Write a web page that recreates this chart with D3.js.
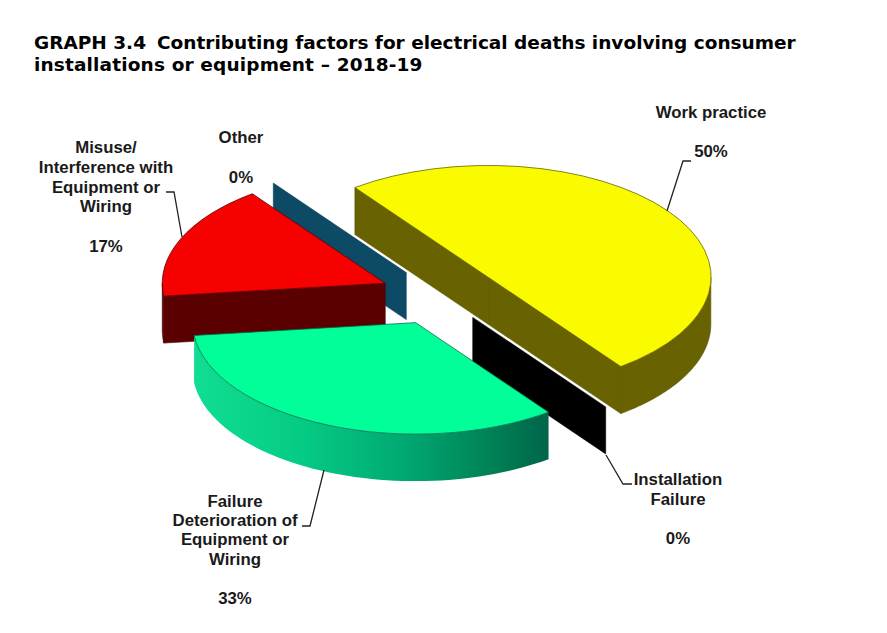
<!DOCTYPE html>
<html>
<head>
<meta charset="utf-8">
<script src="https://cdn.jsdelivr.net/npm/d3@7"></script>
<style>
  html, body { margin: 0; padding: 0; background: #fff; }
  svg { display: block; }
  .title { font: bold 18.5px "DejaVu Sans", Verdana, sans-serif; fill: #000; }
  .lab { font: bold 16.8px "Liberation Sans", Arial, sans-serif; fill: #1a1a1a; text-anchor: middle; }
</style>
</head>
<body>
<svg id="chart" width="887" height="633"></svg>
<script>
const categories = ['Work practice', 'Installation Failure', 'Failure Deterioration of Equipment or Wiring', 'Misuse/ Interference with Equipment or Wiring', 'Other'];
const values = [50, 0, 33.33, 16.67, 0];
const explode = [0.27, 0.25, 0.27, 0.265, 0.25];
const topColors = ['#fbfb00', '#000000', '#00ff99', '#f70000', '#0d4a66'];
const wallColors = ['#686300', '#000000', '#006b48', '#5a0000', '#0d4a66'];
const paintOrder = [4, 3, 0, 1, 2];

const width = 887, height = 633;
const cx = 439.5, cy = 295, rx = 223, ry = 111.5, depth = 47;
const startDeg = -36.6;

const svg = d3.select('#chart');
const defs = svg.append('defs');

const pie = d3.pie().sort(null).value(d => d)
    .startAngle(startDeg * Math.PI / 180)
    .endAngle((startDeg + 360) * Math.PI / 180);
const arcs = pie(values);
const arc = d3.arc().innerRadius(0).outerRadius(rx);
const line = d3.line();

// flat angle (0 = up, clockwise) to screen offset on the tilted ellipse
const onEllipse = a => [rx * Math.sin(a), -ry * Math.cos(a)];

// side of the green slice goes from light to dark, left to right
const greenX = cx + explode[2] * onEllipse((arcs[2].startAngle + arcs[2].endAngle) / 2)[0];
const grad = defs.append('linearGradient')
    .attr('id', 'greenSide')
    .attr('gradientUnits', 'userSpaceOnUse')
    .attr('x1', 193 - greenX).attr('x2', 548 - greenX).attr('y1', 0).attr('y2', 0);
[[0, '#10de92'], [0.3, '#05cc84'], [0.6, '#00a871'], [0.85, '#007f55'], [1, '#00654a']]
  .forEach(s => grad.append('stop').attr('offset', s[0]).attr('stop-color', s[1]));

function drawSlice(i) {
  const d = arcs[i];
  const off = onEllipse((d.startAngle + d.endAngle) / 2);
  const g = svg.append('g')
      .attr('transform', `translate(${cx + explode[i] * off[0]},${cy + explode[i] * off[1]})`);
  const edge = d3.color(wallColors[i]).darker(0.4);

  const wall = a => {
    const p = onEllipse(a);
    return line([[0, 0], p, [p[0], p[1] + depth], [0, depth]]) + 'Z';
  };
  if (Math.sin(d.startAngle) < 0) {
    g.append('path').attr('d', wall(d.startAngle))
      .attr('fill', wallColors[i]).attr('stroke', edge).attr('stroke-width', 0.6);
  }
  if (Math.sin(d.endAngle) > 0) {
    g.append('path').attr('d', wall(d.endAngle))
      .attr('fill', wallColors[i]).attr('stroke', edge).attr('stroke-width', 0.6);
  }

  // outer rim, only the part that faces the viewer
  const lo = Math.max(d.startAngle, Math.PI / 2);
  const hi = Math.min(d.endAngle, Math.PI * 1.5);
  if (hi > lo) {
    const steps = d3.range(0, 61).map(k => lo + (hi - lo) * k / 60);
    const upper = steps.map(onEllipse);
    const lower = steps.slice().reverse().map(a => {
      const p = onEllipse(a);
      return [p[0], p[1] + depth];
    });
    g.append('path').attr('d', line(upper.concat(lower)) + 'Z')
      .attr('fill', i === 2 ? 'url(#greenSide)' : wallColors[i])
      .attr('stroke', i === 2 ? 'none' : edge).attr('stroke-width', 0.6);
  }

  if (d.endAngle > d.startAngle) {
    g.append('path')
      .attr('d', arc({ startAngle: d.startAngle, endAngle: d.endAngle }))
      .attr('transform', `scale(1,${ry / rx})`)
      .attr('fill', topColors[i])
      .attr('stroke', wallColors[i])
      .attr('stroke-width', 0.8)
      .attr('vector-effect', 'non-scaling-stroke');
  }
}

paintOrder.forEach(drawSlice);

// title
svg.append('text').attr('class', 'title').attr('x', 34).attr('y', 49).text('GRAPH 3.4');
svg.append('text').attr('class', 'title').attr('x', 157).attr('y', 49).text('Contributing factors for electrical deaths involving consumer');
svg.append('text').attr('class', 'title').attr('x', 34).attr('y', 71).attr('letter-spacing', 0.15).text('installations or equipment \u2013 2018-19');

// data labels: centre x, then lines with their baselines
const pct = i => Math.round(values[i]) + '%';
const labelText = [
  { x: 711, rows: [['Work practice', 118], [pct(0), 157]] },
  { x: 678, rows: [['Installation', 485], ['Failure', 505], [pct(1), 544]] },
  { x: 235, rows: [['Failure', 507], ['Deterioration of', 526], ['Equipment or', 545], ['Wiring', 565], [pct(2), 604]] },
  { x: 106, rows: [['Misuse/', 153], ['Interference with', 173], ['Equipment or', 193], ['Wiring', 212], [pct(3), 252]] },
  { x: 241, rows: [['Other', 143], [pct(4), 183]] }
];
labelText.forEach(l => {
  l.rows.forEach(r => {
    svg.append('text').attr('class', 'lab').attr('x', l.x).attr('y', r[1]).text(r[0]);
  });
});

// leader lines
const leaders = [
  [[667, 211], [683, 161], [691, 161]],
  [[606, 455], [623, 484], [632, 484]],
  [[324, 470], [310, 526], [302, 526]],
  [[182, 237], [174, 192], [166, 192]]
];
leaders.forEach(p => {
  svg.append('path').attr('d', line(p)).attr('fill', 'none')
    .attr('stroke', '#222').attr('stroke-width', 1.3);
});
</script>
</body>
</html>
